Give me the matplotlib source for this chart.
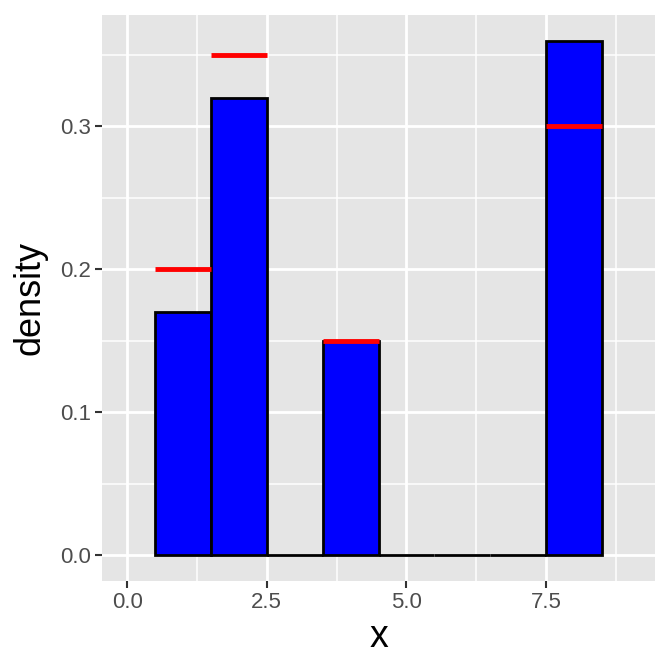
import numpy as np
import matplotlib.pyplot as plt

# data
bin_mid = [1, 2, 3, 4, 5, 6, 7, 8]
density = [0.17, 0.32, 0.0, 0.15, 0.0, 0.0, 0.0, 0.36]
seg_x0 = [0.5, 1.5, 3.5, 7.5]
seg_x1 = [1.5, 2.5, 4.5, 8.5]
seg_y = [0.20, 0.35, 0.15, 0.30]
xticks = [0.0, 2.5, 5.0, 7.5]
xlabels = ["0.0", "2.5", "5.0", "7.5"]
yticks = [0.0, 0.1, 0.2, 0.3]
ylabels = ["0.0", "0.1", "0.2", "0.3"]

plt.rcParams['font.family'] = ['Liberation Sans', 'DejaVu Sans']

fig = plt.figure(figsize=(6.72, 6.72), dpi=100)
ax = fig.add_axes([102/672, 1-581/672, (655-102)/672, (581-15)/672])
ax.set_facecolor('#E5E5E5')

ax.set_xlim(-0.45, 9.45)
ax.set_ylim(-0.018, 0.378)

# grid
for v in [1.25, 3.75, 6.25, 8.75]:
    ax.axvline(v, color='white', lw=1.1, zorder=0)
for v in [0.05, 0.15, 0.25, 0.35]:
    ax.axhline(v, color='white', lw=1.1, zorder=0)
for v in xticks:
    ax.axvline(v, color='white', lw=2.0, zorder=0)
for v in yticks:
    ax.axhline(v, color='white', lw=2.0, zorder=0)

ax.bar(bin_mid, density, width=1.0, color='blue', edgecolor='black', linewidth=2.0, zorder=2)
ax.hlines(seg_y, seg_x0, seg_x1, color='red', lw=3.5, zorder=3)

ax.set_xticks(xticks)
ax.set_xticklabels(xlabels)
ax.set_yticks(yticks)
ax.set_yticklabels(ylabels)
ax.tick_params(axis='both', length=5, width=1.5, color='#333333', labelcolor='#4D4D4D',
               labelsize=16, pad=3)
for s in ax.spines.values():
    s.set_visible(False)

ax.set_xlabel('x', fontsize=27, labelpad=4)
ax.set_ylabel('density', fontsize=26, labelpad=9)

fig.savefig('out.png', dpi=100)
